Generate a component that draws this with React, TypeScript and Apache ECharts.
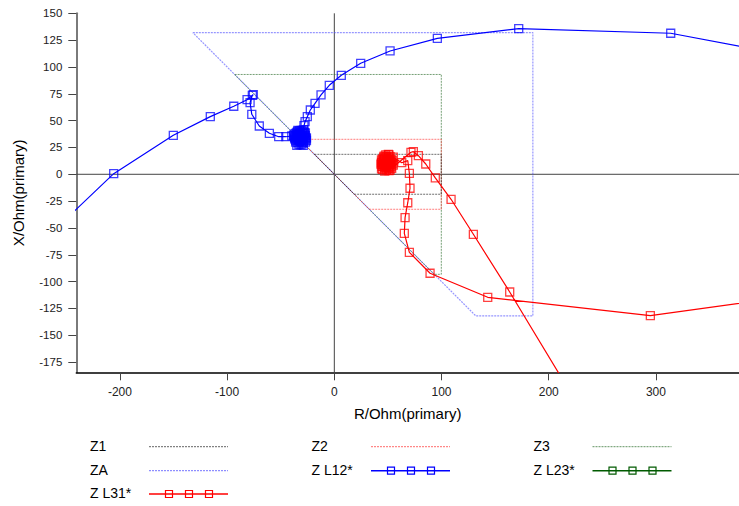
import React, { useEffect, useRef } from "react";
import * as echarts from "echarts";

// ---- axis ticks ----
const R_TICKS = [-200, -100, 0, 100, 200, 300];
const X_TICKS = [-175, -150, -125, -100, -75, -50, -25, 0, 25, 50, 75, 100, 125, 150];
const R_MIN = -240.7;
const R_MAX = 377.5;
const X_MIN = -184.5;
const X_MAX = 150;

// ---- zone characteristics (R, X) ----
const ZONE_Z1 = [[-18.6, 18.6], [99.8, 18.6], [99.8, -18.6], [18.6, -18.6], [-18.6, 18.6]];
const ZONE_Z2 = [[-32.6, 32.6], [99.8, 32.6], [99.8, -32.6], [32.6, -32.6], [-32.6, 32.6]];
const ZONE_Z3 = [[-93, 93], [99.8, 93], [99.8, -93.2], [93.2, -93.2], [-93, 93]];
const ZONE_ZA = [[-132, 132], [185.2, 132], [185.2, -132], [132, -132], [-132, 132]];

// ---- impedance loci (R, X) ----
const ZL12_IN = [
  [-270, -60.5], [-205.8, 0.6], [-150.2, 36.3], [-115.7, 53.7], [-93.8, 63.4], [-81.4, 69.5],
  [-75.6, 74.2], [-76.5, 73.5], [-78.6, 66.7], [-77, 55.9], [-70, 45], [-60.6, 38.2],
  [-51.9, 35], [-45.3, 35], [-39.7, 35.7],
];
const ZL12_FAULT = [
  [-36, 38], [-34, 40], [-31, 41], [-28, 39], [-27, 36], [-28, 32], [-30, 29], [-33, 28],
  [-36, 30], [-37, 33], [-35, 35], [-32, 36], [-29, 34], [-31, 31], [-34, 32], [-33, 38],
  [-30, 38], [-27, 30], [-35, 27], [-38, 36], [-32, 33], [-29, 27], [-26, 34], [-34, 41], [-31, 35],
  [-36.5, 35.5], [-35, 37], [-33, 36.5], [-31.5, 39], [-29.5, 40], [-28, 37.5], [-26.5, 33],
  [-27.5, 34.5], [-29, 31], [-30.5, 32.5], [-32.5, 30.5], [-34, 29.5], [-36, 31.5], [-37, 34.5],
  [-35.5, 33], [-33.5, 34], [-32, 37.5], [-30, 36], [-28.5, 35.5], [-31, 27.5], [-33, 32],
  [-35, 39], [-30, 33.5], [-27, 38.5], [-37.5, 37.5], [-32.5, 40.5], [-26, 31.5], [-29, 29.5],
];
const ZL12_OUT = [
  [-28.9, 41.3], [-28.3, 45.3], [-27.3, 49], [-25.2, 53.7], [-22.4, 59.9], [-18, 66.1],
  [-12.4, 73.9], [-4.7, 82.9], [6.5, 92.2], [24.6, 103.4], [52, 114.9], [96.1, 126.7],
  [172, 135.7], [313.8, 131.4], [420, 111.4],
];
const ZL23: number[][] = [];
const ZL31_IN = [
  [420, -114.3], [294.8, -131.7], [143.1, -114.6], [89.3, -92.2], [70, -72.7], [65.3, -55],
  [66, -40.4], [68.5, -26.5], [70.6, -13], [70, 0.9], [68.5, 12.7], [62.9, 10.8], [50.4, 18.6],
];
const ZL31_FAULT = [
  [48, 10], [46, 12], [45, 9], [47, 6], [50, 5], [53, 7], [54, 10], [53, 14], [50, 16], [47, 15],
  [45, 14], [44, 11], [46, 7], [49, 8], [52, 12], [50, 13], [48, 18], [51, 18], [44, 5], [47, 3],
  [52, 4], [55, 16], [49, 11], [46, 16], [51, 9],
  [47.5, 10.5], [49.5, 12.5], [51.5, 14], [52.5, 9], [50.5, 7], [48, 6.5], [46, 9.5], [45.5, 12.5],
  [47, 13.5], [49, 15], [51, 11], [53, 11.5], [54, 13], [52, 16.5], [48.5, 16.5], [46.5, 17],
  [44.5, 7.5], [45, 4.5], [48.5, 4], [51, 6], [53.5, 5.5], [49, 9.5], [50, 10.5], [47, 8],
  [43.5, 9.5], [55, 8.5], [44, 13.5], [51, 3.5],
];
const ZL31_OUT = [
  [71.5, 20.5], [73.7, 21.1], [78.4, 17.3], [85.3, 9.6], [94.2, -3.4], [108.9, -23.3],
  [129.7, -55.9], [163.6, -109.7], [240, -236],
];

// ---- zero cross lines ----
const ZERO_V = [[0, X_MIN], [0, X_MAX]];
const ZERO_H = [[R_MIN, 0], [R_MAX, 0]];

const FONT = "'Liberation Sans', Arial, sans-serif";

type LegendItem = { name: string; color: string; dotted: boolean; marker: boolean; col: number; row: number };
const LEGEND: LegendItem[] = [
  { name: "Z1", color: "rgba(60,60,60,0.8)", dotted: true, marker: false, col: 0, row: 0 },
  { name: "Z2", color: "rgba(255,70,70,0.8)", dotted: true, marker: false, col: 1, row: 0 },
  { name: "Z3", color: "rgba(60,120,60,0.8)", dotted: true, marker: false, col: 2, row: 0 },
  { name: "ZA", color: "rgba(80,80,255,0.8)", dotted: true, marker: false, col: 0, row: 1 },
  { name: "Z L12*", color: "#0000ff", dotted: false, marker: true, col: 1, row: 1 },
  { name: "Z L23*", color: "#005a00", dotted: false, marker: true, col: 2, row: 1 },
  { name: "Z L31*", color: "#ff0000", dotted: false, marker: true, col: 0, row: 2 },
];

function zoneSeries(name: string, data: number[][], color: string, width = 1) {
  return {
    name,
    type: "line",
    data,
    symbol: "none",
    silent: true,
    lineStyle: { color, width, type: [2, 1] },
    z: 2,
  };
}

function locusSeries(name: string, data: number[][], color: string, border: string) {
  return {
    name,
    type: "line",
    data,
    symbol: "rect",
    symbolSize: 8,
    showAllSymbol: true,
    clip: true,
    itemStyle: { color: "rgba(0,0,0,0)", borderColor: border, borderWidth: 1.3 },
    lineStyle: { color, width: 1.2 },
    z: 5,
  };
}

export default function App() {
  const ref = useRef<HTMLDivElement>(null);
  useEffect(() => {
    if (!ref.current) return;
    const chart = echarts.init(ref.current, undefined, { renderer: "svg" });

    const colX = [90, 311.5, 533.5];
    const lineX0 = [149, 371, 592.5];
    const rowY = [446.7, 470.7, 494];
    const graphics: any[] = [];
    LEGEND.forEach((it) => {
      const y = rowY[it.row];
      graphics.push({
        type: "text",
        left: colX[it.col],
        top: y - 8,
        style: { text: it.name, fill: "#000", font: `14px ${FONT}` },
      });
      const x0 = lineX0[it.col];
      graphics.push({
        type: "line",
        shape: { x1: x0, y1: y, x2: x0 + 79, y2: y },
        style: { stroke: it.color, lineWidth: it.dotted ? 1 : 1.5, lineDash: it.dotted ? [2, 1] : null },
      });
      if (it.marker) {
        [20, 40, 60].forEach((d) => {
          graphics.push({
            type: "rect",
            shape: { x: x0 + d - 3.5, y: y - 3.5, width: 7, height: 7 },
            style: { fill: "none", stroke: it.color, lineWidth: 1.2 },
          });
        });
      }
    });

    const ZL12 = [...ZL12_IN, ...ZL12_FAULT, ...ZL12_OUT];
    const ZL31 = [...ZL31_IN, ...ZL31_FAULT, ...ZL31_OUT];

    chart.setOption({
      animation: false,
      backgroundColor: "#fff",
      textStyle: { fontFamily: FONT },
      grid: { left: 76.3, right: 0, top: 13.3, bottom: 133.7, containLabel: false },
      xAxis: {
        type: "value",
        min: R_MIN,
        max: R_MAX,
        name: "R/Ohm(primary)",
        nameLocation: "middle",
        nameGap: 34,
        nameTextStyle: { fontSize: 15, color: "#000", fontFamily: FONT },
        axisLine: { show: true, onZero: false, lineStyle: { color: "#000", width: 1.5 } },
        axisTick: { show: true, length: 8, customValues: R_TICKS, lineStyle: { color: "#444" } },
        axisLabel: { customValues: R_TICKS, margin: 14, fontSize: 12, color: "#222", fontFamily: FONT },
        splitLine: { show: false },
      },
      yAxis: {
        type: "value",
        min: X_MIN,
        max: X_MAX,
        name: "X/Ohm(primary)",
        nameLocation: "middle",
        nameGap: 50,
        nameTextStyle: { fontSize: 15, color: "#000", fontFamily: FONT },
        axisLine: { show: true, onZero: false, lineStyle: { color: "#7a7a7a", width: 2 } },
        axisTick: { show: true, length: 8, customValues: X_TICKS, lineStyle: { color: "#444" } },
        axisLabel: { customValues: X_TICKS, margin: 14, fontSize: 11.5, color: "#222", fontFamily: FONT },
        splitLine: { show: false },
      },
      series: [
        { type: "line", data: ZERO_V, symbol: "none", silent: true, lineStyle: { color: "#444", width: 1 }, z: 1 },
        { type: "line", data: ZERO_H, symbol: "none", silent: true, lineStyle: { color: "#444", width: 1 }, z: 1 },
        zoneSeries("ZA", ZONE_ZA, "rgba(80,80,255,0.6)", 1.2),
        zoneSeries("Z3", ZONE_Z3, "rgba(60,120,60,0.7)"),
        zoneSeries("Z2", ZONE_Z2, "rgba(255,70,70,0.7)"),
        zoneSeries("Z1", ZONE_Z1, "rgba(50,50,50,0.7)"),
        locusSeries("Z L23*", ZL23, "#005a00", "rgba(0,90,0,0.8)"),
        locusSeries("Z L12*", ZL12, "#0000ff", "rgba(0,0,255,0.75)"),
        locusSeries("Z L31*", ZL31, "#ff0000", "rgba(255,0,0,0.75)"),
      ],
      graphic: graphics,
    });
    return () => chart.dispose();
  }, []);
  return (
    <div
      ref={ref}
      style={{ position: "fixed", left: 0, top: 0, width: 739, height: 506 }}
    />
  );
}
